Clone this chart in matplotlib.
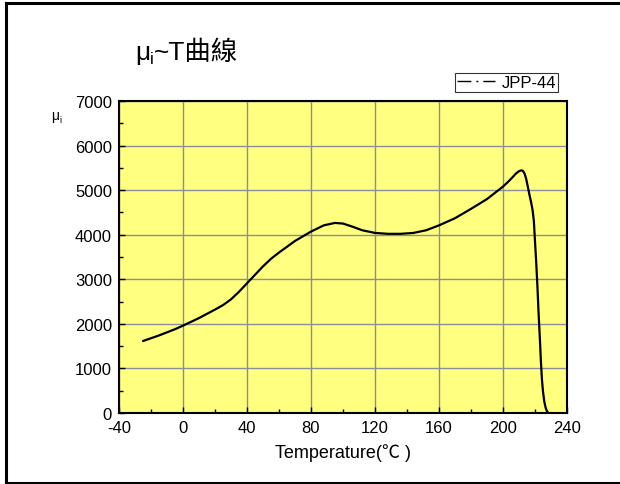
"""mu_i ~ T curve for JPP-44 ferrite."""

import matplotlib

matplotlib.use("Agg")
import matplotlib.pyplot as plt
from matplotlib.lines import Line2D
from matplotlib.ticker import MultipleLocator

plt.rcParams["font.family"] = ["Liberation Sans", "Noto Sans CJK TC", "DejaVu Sans"]
plt.rcParams["axes.unicode_minus"] = False

# values
temperature = [-25, -15, -5, 0, 10, 20, 25, 30, 35, 40, 45, 50, 55, 60, 65,
               70, 80, 88, 95, 100, 106, 112, 120, 128, 136, 144, 152, 160,
               170, 180, 190, 200,
               203, 206, 208, 210, 211.5, 212.5, 213.5, 214.5, 215.5, 216.5,
               217.5, 218.5, 219.3, 220, 220.8, 221.5, 222.2, 223, 223.7,
               224.3, 225, 225.8, 226.7, 227.6, 228.5]
mu_i = [1615, 1740, 1880, 1960, 2130, 2320, 2420, 2550, 2720, 2910, 3100,
        3290, 3460, 3600, 3730,
        3860, 4070, 4210, 4265, 4250, 4180, 4100, 4040, 4020, 4020, 4040,
        4100, 4210, 4370, 4580, 4800, 5080,
        5180, 5290, 5370, 5425, 5445, 5430, 5370, 5250, 5080, 4900,
        4740, 4550, 4300, 3850, 3350, 2850, 2270, 1700, 1150,
        770, 480, 260, 110, 30, 0]
series_name = "JPP-44"
x_ticks = [-40, 0, 40, 80, 120, 160, 200, 240]
y_ticks = [0, 1000, 2000, 3000, 4000, 5000, 6000, 7000]

W, H = 620, 485
fig = plt.figure(figsize=(W / 100, H / 100), dpi=100)
ax = fig.add_axes([119 / W, 1 - 414 / H, (567 - 119) / W, (414 - 102) / H])
ax.set_facecolor("#ffff80")

ax.plot(temperature, mu_i, color="black", lw=1.6,
        solid_joinstyle="round", solid_capstyle="round")

ax.set_xlim(-40, 240)
ax.set_ylim(0, 7000)
ax.set_xticks(x_ticks)
ax.set_yticks(y_ticks)
ax.xaxis.set_minor_locator(MultipleLocator(20))
ax.yaxis.set_minor_locator(MultipleLocator(500))
ax.tick_params(which="both", direction="in", labelsize=12, width=1)
ax.tick_params(which="major", length=4, pad=5)
ax.tick_params(which="minor", length=3)
ax.grid(True, which="major", color="#8c8c9c", lw=1)
ax.set_axisbelow(True)
for s in ax.spines.values():
    s.set_linewidth(1.5)
    s.set_color("black")

ax.set_xlabel("Temperature(℃ )", fontsize=13, labelpad=6)

# legend with long-dash / dot handle above the plot
handle = Line2D([], [], color="black", lw=1, dashes=(10, 3.6, 1.4, 3.6))
leg = fig.legend([handle], [series_name], loc="lower right",
                 bbox_to_anchor=(558 / W, 1 - 93 / H), fontsize=12,
                 frameon=True, fancybox=False, borderpad=0.12,
                 handlelength=2.3, handletextpad=0.4, borderaxespad=0)
leg.get_frame().set_edgecolor("black")
leg.get_frame().set_linewidth(0.8)


def chain_text(x_px, base_px, parts):
    """Place text pieces one after another, in pixel coordinates."""
    fig.canvas.draw()
    r = fig.canvas.get_renderer()
    x = x_px
    for txt, size, dy in parts:
        t = fig.text(x / W, 1 - (base_px + dy) / H, txt, fontsize=size,
                     va="baseline", ha="left")
        x = t.get_window_extent(r).x1


# title and y label with subscripted i
chain_text(135, 60, [("μ", 19, 0), ("i", 12, 4), ("~T曲線", 19, 0)])
chain_text(51, 120, [("μ", 10, 0), ("i", 6.5, 3)])

# outer frame (left, top, bottom)
for xs, ys in [([5.5, 5.5], [3.5, 483.5]), ([5.5, 640], [3.5, 3.5]),
               ([5.5, 640], [483.5, 483.5])]:
    fig.add_artist(Line2D([x / W for x in xs], [1 - y / H for y in ys],
                          color="black", lw=2.2))

fig.savefig("out.png", dpi=100)
